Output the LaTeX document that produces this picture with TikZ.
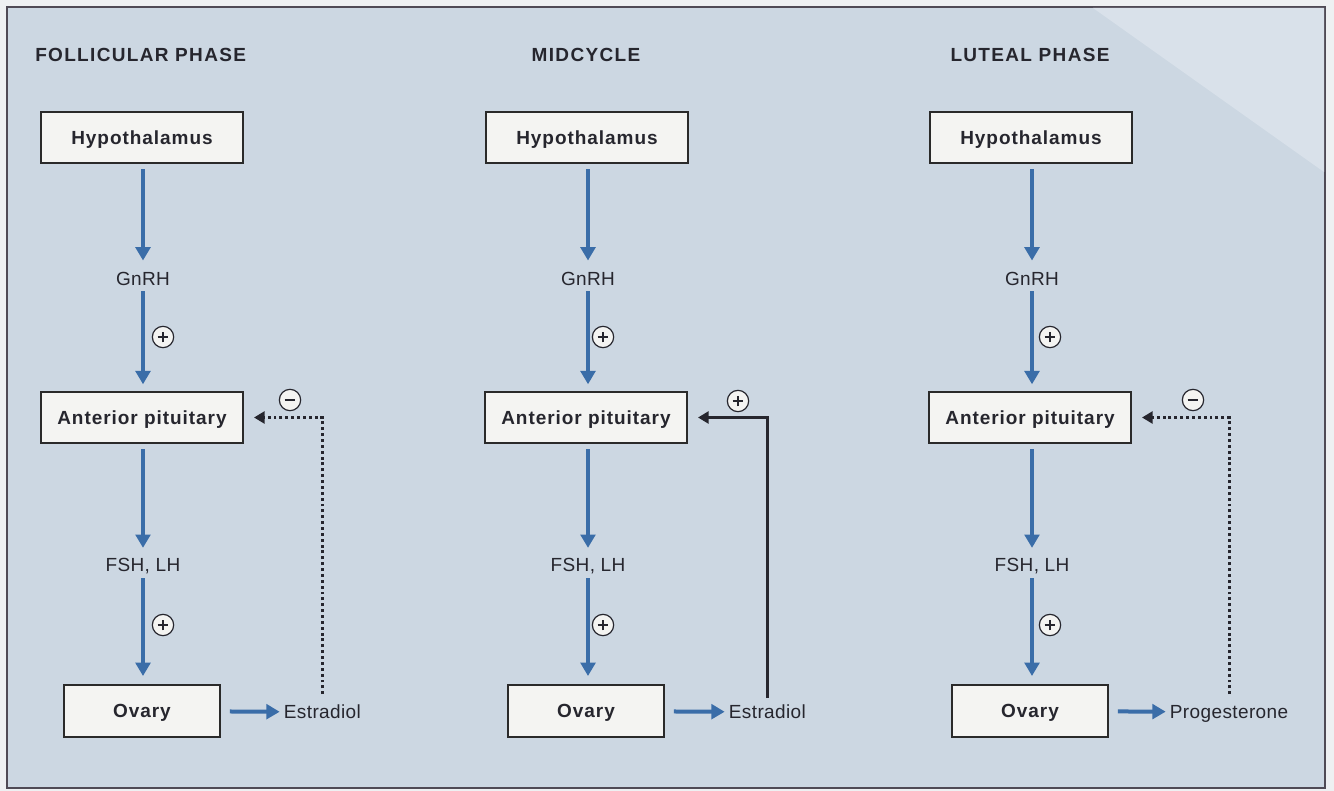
\documentclass[tikz,border=0pt]{standalone}
\usepackage{fontspec}
\setmainfont{Liberation Sans}
\newfontfamily\titlefont[LetterSpace=7]{Liberation Sans}
\newfontfamily\boxfont[LetterSpace=5]{Liberation Sans}
\newfontfamily\labfont[LetterSpace=2]{Liberation Sans}
\usetikzlibrary{arrows.meta}
\definecolor{bg}{HTML}{CCD7E2}
\definecolor{paper}{HTML}{EEF0F2}
\definecolor{fold}{HTML}{D9E1EA}
\definecolor{frame}{HTML}{4F4A55}
\definecolor{boxfill}{HTML}{F4F4F2}
\definecolor{boxline}{HTML}{2A2A2A}
\definecolor{ink}{HTML}{26262E}
\definecolor{arrowblue}{HTML}{3A6DA8}
\tikzset{
  organ/.style={draw=boxline, line width=1.5pt, fill=boxfill, minimum width=151.5pt,
    minimum height=38.3pt, inner sep=0pt, text=ink, text height=10.3pt, text depth=0pt,
    font=\boxfont\bfseries\fontsize{14.25}{16}\selectfont},
  ovbox/.style={organ, minimum width=116.3pt, minimum height=39pt},
  hormone/.style={text=ink, inner sep=2pt, text height=10.3pt, text depth=0pt,
    font=\labfont\fontsize{14.25}{16}\selectfont},
  phase/.style={text=ink, inner sep=0pt, text height=10.3pt, text depth=0pt,
    font=\titlefont\bfseries\fontsize{14.25}{16}\selectfont},
  barrow/.style={draw=arrowblue, line width=3pt, -{Triangle[width=11pt,length=10pt]}},
  fbdash/.style={draw=ink, line width=2.2pt, dash pattern=on 2.2pt off 2.2pt,
    -{Triangle[width=9pt,length=8pt]}},
  fbsolid/.style={draw=ink, line width=2.2pt, -{Triangle[width=9pt,length=8pt]}},
  sign/.style={circle, draw=ink, line width=0.9pt, fill=boxfill, minimum size=16pt, inner sep=0pt},
  plussign/.style={sign, path picture={
    \draw[ink, line width=1.3pt]
      ([xshift=-4pt]path picture bounding box.center) -- ([xshift=4pt]path picture bounding box.center)
      ([yshift=-4pt]path picture bounding box.center) -- ([yshift=4pt]path picture bounding box.center);}},
  minussign/.style={sign, path picture={
    \draw[ink, line width=1.3pt]
      ([xshift=-4pt]path picture bounding box.center) -- ([xshift=4pt]path picture bounding box.center);}}
}
\begin{document}
\begin{tikzpicture}[x=0.75pt, y=-0.75pt]
\useasboundingbox (0,0) rectangle (1334,791);
\fill[paper] (0,0) rectangle (1334,791);
\draw[frame, line width=1.5pt, fill=bg] (7,7) rectangle (1325,788);
\fill[fold] (1093,8) -- (1324,8) -- (1324,172) -- cycle;

% titles
\node[phase, anchor=west] (t1) at (35,55) {FOLLICULAR PHASE};
\node[phase] (t2) at (586,55) {MIDCYCLE};
\node[phase] (t3) at (1030,55) {LUTEAL PHASE};

% ---------- column 1 ----------
\node[organ] (h1) at (142,137.5) {Hypothalamus};
\node[hormone] (g1) at (143,279) {GnRH};
\node[organ] (a1) at (142,417.5) {Anterior pituitary};
\node[hormone] (f1) at (143,565) {FSH, LH};
\node[ovbox] (o1) at (142,711) {Ovary};
\node[hormone, anchor=west] (e1) at (281,712) {Estradiol};
\draw[barrow, shorten <=4pt, shorten >=6.5pt] (h1.south -| g1) -- (g1);
\draw[barrow, shorten <=2pt, shorten >=5pt] (g1) -- (a1.north -| g1);
\draw[barrow, shorten <=4pt, shorten >=5.5pt] (a1.south -| f1) -- (f1);
\draw[barrow, shorten <=2.5pt, shorten >=6pt] (f1) -- (o1.north -| f1);
\draw[barrow, shorten <=7pt, shorten >=1pt] (o1) -- (e1);
\draw[fbdash, shorten <=6pt, shorten >=7.5pt] (e1.north) |- (a1.east);
\node[plussign] (p1a) at (163,337) {};
\node[plussign] (p1b) at (163,625) {};
\node[minussign] (m1) at (290,400) {};

% ---------- column 2 ----------
\node[organ] (h2) at (587,137.5) {Hypothalamus};
\node[hormone] (g2) at (588,279) {GnRH};
\node[organ] (a2) at (586,417.5) {Anterior pituitary};
\node[hormone] (f2) at (588,565) {FSH, LH};
\node[ovbox] (o2) at (586,711) {Ovary};
\node[hormone, anchor=west] (e2) at (726,712) {Estradiol};
\draw[barrow, shorten <=4pt, shorten >=6.5pt] (h2.south -| g2) -- (g2);
\draw[barrow, shorten <=2pt, shorten >=5pt] (g2) -- (a2.north -| g2);
\draw[barrow, shorten <=4pt, shorten >=5.5pt] (a2.south -| f2) -- (f2);
\draw[barrow, shorten <=2.5pt, shorten >=6pt] (f2) -- (o2.north -| f2);
\draw[barrow, shorten <=7pt, shorten >=1pt] (o2) -- (e2);
\draw[fbsolid, shorten <=3pt, shorten >=7.5pt] (e2.north) |- (a2.east);
\node[plussign] (p2a) at (603,337) {};
\node[plussign] (p2b) at (603,625) {};
\node[plussign] (p2c) at (738,401) {};

% ---------- column 3 ----------
\node[organ] (h3) at (1031,137.5) {Hypothalamus};
\node[hormone] (g3) at (1032,279) {GnRH};
\node[organ] (a3) at (1030,417.5) {Anterior pituitary};
\node[hormone] (f3) at (1032,565) {FSH, LH};
\node[ovbox] (o3) at (1030,711) {Ovary};
\node[hormone, anchor=west] (e3) at (1167,712) {Progesterone};
\draw[barrow, shorten <=4pt, shorten >=6.5pt] (h3.south -| g3) -- (g3);
\draw[barrow, shorten <=2pt, shorten >=5pt] (g3) -- (a3.north -| g3);
\draw[barrow, shorten <=4pt, shorten >=5.5pt] (a3.south -| f3) -- (f3);
\draw[barrow, shorten <=2.5pt, shorten >=6pt] (f3) -- (o3.north -| f3);
\draw[barrow, shorten <=7pt, shorten >=1pt] (o3) -- (e3);
\draw[fbdash, shorten <=6pt, shorten >=7.5pt] (e3.north) |- (a3.east);
\node[plussign] (p3a) at (1050,337) {};
\node[plussign] (p3b) at (1050,625) {};
\node[minussign] (m3) at (1193,400) {};
\end{tikzpicture}
\end{document}
